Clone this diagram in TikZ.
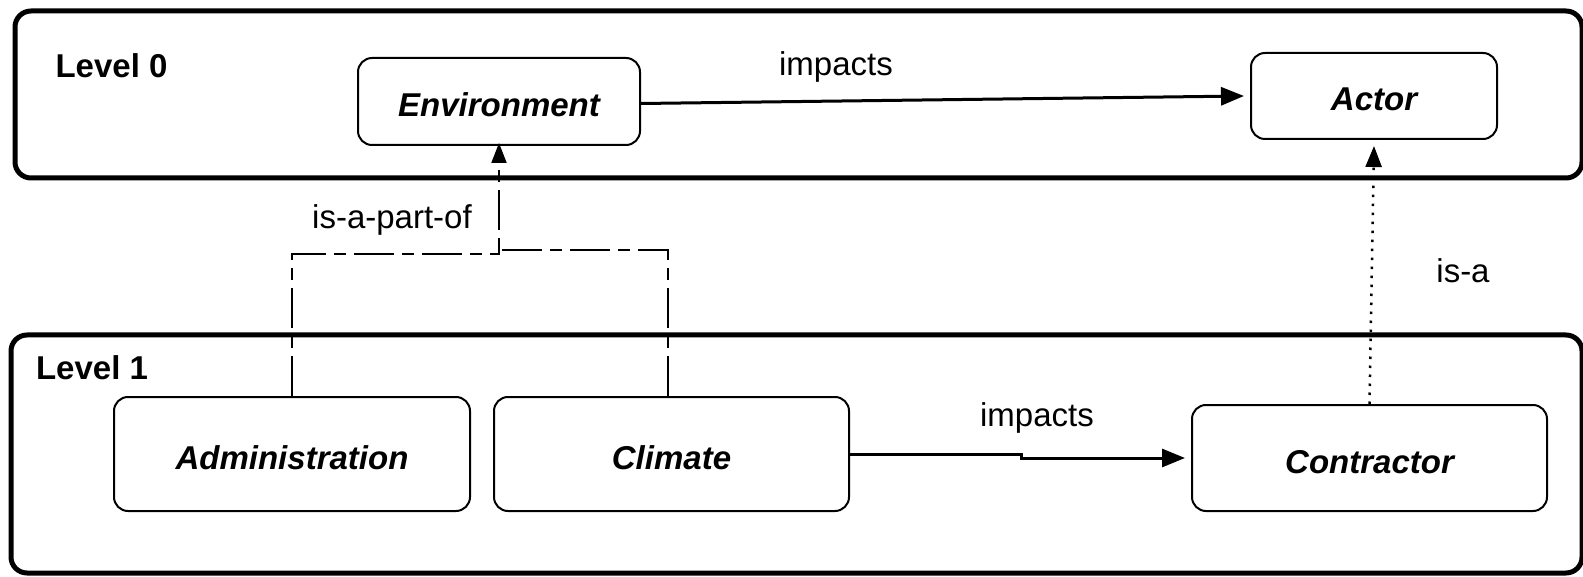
\documentclass[tikz,border=0pt]{standalone}
\usepackage{fontspec}
\setmainfont{Liberation Sans}
\usetikzlibrary{arrows.meta}
\begin{document}
\begin{tikzpicture}[x=1pt,y=-1pt,
  levelbox/.style={draw, line width=5pt, rounded corners=16pt},
  levellabel/.style={font=\bfseries\fontsize{33}{40}\selectfont, inner sep=0pt},
  concept/.style={draw, line width=2pt, rounded corners=14pt, inner sep=0pt,
    text height=30pt, text depth=0pt,
    font=\bfseries\itshape\fontsize{33}{40}\selectfont},
  rellabel/.style={font=\fontsize{33}{40}\selectfont, inner sep=0pt},
  impact/.style={line width=3pt, -{Triangle[length=23pt,width=18pt]}},
  partof/.style={line width=2pt, dash pattern=on 40pt off 8pt on 12pt off 8pt},
  isa/.style={line width=2.5pt, dash pattern=on 2.5pt off 6.5pt, -{Triangle[length=21pt,width=16pt]}}
]
\clip (0,0) rectangle (1583,577);
\useasboundingbox (0,0) rectangle (1583,577);

% level boxes
\draw[levelbox] (15,11) rectangle (1582,178);
\draw[levelbox] (11,335) rectangle (1582,573);
\node[levellabel] (l0) at (111.5,66) {Level 0};
\node[levellabel] (l1) at (92,368) {Level 1};

% concepts
\node[concept, minimum width=282pt, minimum height=87pt] (env) at (499,101.5) {Environment};
\node[concept, minimum width=246pt, minimum height=86pt] (act) at (1374,96) {Actor};
\node[concept, minimum width=356pt, minimum height=114pt] (adm) at (292,454) {Administration};
\node[concept, minimum width=355pt, minimum height=114pt] (cli) at (671.5,454) {Climate};
\node[concept, minimum width=355pt, minimum height=106pt] (con) at (1369.5,458) {Contractor};

% junction points of is-a-part-of
\coordinate (jl) at (499,254);
\coordinate (jr) at (499,250);

% connectors
\draw[impact] ([yshift=-2pt]env.east) -- ([xshift=-6pt]act.west);
\draw[impact] (cli.east) -- ++(171,0) |- ([xshift=-6pt]con.west);
\draw[isa] (con.north) -- ([yshift=-6pt]act.south);
\draw[partof] (adm.north) |- (jl) -- (jr);
\draw[partof] ([xshift=-4pt]cli.north) |- (jr);
\draw[line width=2pt, dash pattern=on 12pt off 8pt on 40pt off 8pt, -{Triangle[length=20pt,width=15pt]}] (jr) -- ([yshift=3pt]env.south);

% labels
\node[rellabel] (t1) at (836,67) {impacts};
\node[rellabel] (t2) at (1037,418) {impacts};
\node[rellabel] (t3) at (1463,271) {is-a};
\node[rellabel] (t4) at (392,220) {is-a-part-of};
\end{tikzpicture}
\end{document}
